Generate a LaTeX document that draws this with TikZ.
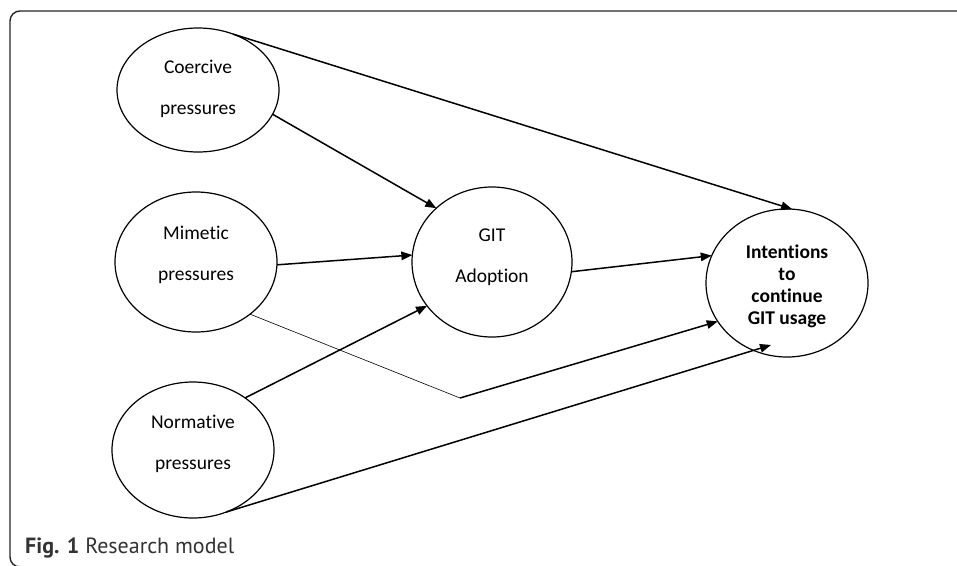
\documentclass[tikz,border=0pt]{standalone}
\usepackage{fontspec}
\setmainfont{Carlito}[Ligatures=NoCommon]
\newfontfamily\capfont{PT Sans}
\usetikzlibrary{shapes.geometric,arrows.meta,calc}
\tikzset{
  construct/.style={draw=black, ellipse, line width=1.2pt, inner sep=0pt, outer sep=0pt, minimum width=162pt},
  lbl/.style={align=center, font=\fontsize{19.5}{22}\selectfont, inner sep=0pt},
  arr/.style={line width=1.5pt, -{Triangle[length=11pt,width=8.5pt]}},
  thin/.style={line width=0.6pt}
}
\begin{document}
\begin{tikzpicture}[x=1pt,y=-1pt]
\useasboundingbox (0,0) rectangle (957,565);
\fill[white] (0,0) rectangle (957,565);
% frame
\draw[line width=1.4pt, rounded corners=10pt, black!85] (970,11) -- (10,11) -- (10,567) -- (30,567);
% constructs
\node[construct, minimum height=124pt] (coer) at (198,90) {};
\node[construct, minimum height=140pt] (mim) at (196,262) {};
\node[construct, minimum height=136pt] (norm) at (193,450) {};
\node[construct, minimum width=160pt, minimum height=150pt] (git) at (492,262) {};
\node[construct, minimum height=148pt] (intn) at (787,283) {};
% labels
\node[lbl] (coert) at (198,89) {Coercive\\[19pt]pressures};
\node[lbl] (mimt) at (196,255) {Mimetic\\[19pt]pressures};
\node[lbl] (normt) at (193,444) {Normative\\[19pt]pressures};
\node[lbl] (gitt) at (492,257) {GIT\\[19pt]Adoption};
\node[lbl, font=\fontsize{19.5}{22}\bfseries] (intnt) at (787,286) {Intentions\\to\\continue\\GIT usage};
% connectors
\coordinate (bend) at (460,398);
\coordinate (t7) at ($(intn.center)+(-16,62)$);
\draw[arr] (coer.58) -- (intn.86);
\draw[arr] (coer.-18) -- (git.136);
\draw[arr] (mim.-2) -- (git.175);
\draw[arr] (norm.45) -- (git.214);
\draw[arr] (git.-7) -- (intn.160);
\draw[thin] (mim.-44) -- (bend);
\draw[arr] (bend) -- (intn.209);
\draw[arr] (norm.-62) -- (t7);
% caption
\node[anchor=base west, inner sep=0pt, font=\capfont\fontsize{22}{26}\selectfont, text=black!80] (cap) at (25,553) {\textbf{Fig. 1} Research model};
\end{tikzpicture}
\end{document}
